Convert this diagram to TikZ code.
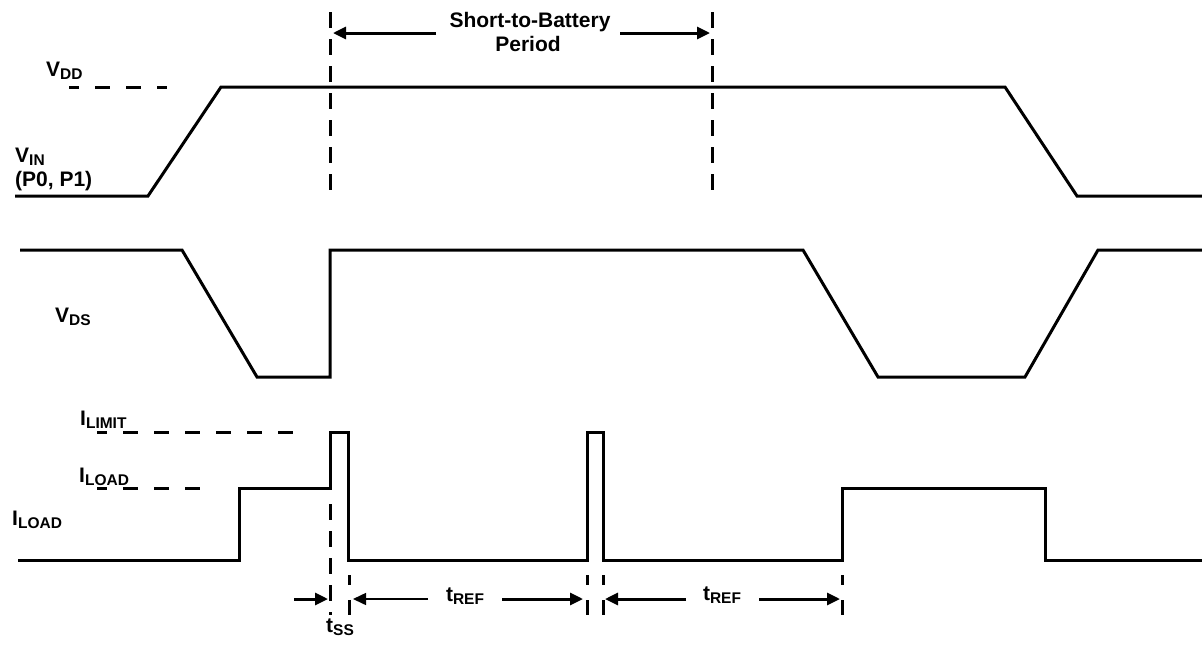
\documentclass[tikz,border=0pt]{standalone}
\usepackage{fontspec}
\setmainfont{Liberation Sans}
\usetikzlibrary{arrows.meta}
\newcommand{\subtx}[1]{\raisebox{-3pt}{\fontsize{15.5}{15.5}\selectfont #1}}
\tikzset{
  trace/.style={line width=3pt, line join=miter},
  hdash/.style={line width=3pt, dash pattern=on 15pt off 16pt, dash phase=5pt},
  vdash/.style={line width=3pt, dash pattern=on 16pt off 11pt},
  sdash/.style={line width=3pt, dash pattern=on 10pt off 15pt on 15pt off 10pt},
  arr/.style={line width=3pt, -{Triangle[length=13pt,width=12pt]}},
  tharr/.style={line width=1.5pt, -{Triangle[length=13pt,width=12pt]}},
  lbl/.style={inner sep=0pt, font=\fontsize{21}{24}\selectfont\bfseries}
}
\begin{document}
\begin{tikzpicture}[x=1pt,y=-1pt]
\useasboundingbox (0,0) rectangle (1202,646);

% labels
\node[lbl, anchor=base west] (vdd) at (46,76) {V\subtx{DD}};
\node[lbl, anchor=base west] (vin) at (15,162) {V\subtx{IN}};
\node[lbl, anchor=base west] (pins) at (15,186) {(P0, P1)};
\node[lbl, anchor=base west] (vds) at (55,322) {V\subtx{DS}};
\node[lbl, anchor=base west] (ilim) at (80,425) {I\subtx{LIMIT}};
\node[lbl, anchor=base west] (iload1) at (79,482) {I\subtx{LOAD}};
\node[lbl, anchor=base west] (iload2) at (12,525) {I\subtx{LOAD}};
\node[lbl, anchor=base] (stb1) at (530,27) {Short-to-Battery};
\node[lbl, anchor=base] (stb2) at (528,51) {Period};
\node[lbl, anchor=base] (tref1) at (465,601) {t\subtx{REF}};
\node[lbl, anchor=base] (tref2) at (722,600) {t\subtx{REF}};
\node[lbl, anchor=base] (tss) at (340,632) {t\subtx{SS}};

% level reference dashes
\draw[hdash] (69,87) -- (167,87);
\draw[hdash] (97,432) -- (295,432);
\draw[hdash] (97,488) -- (203,488);

% vertical dashed markers
\draw[vdash] (330,12) -- (330,198);
\draw[vdash] (712,12) -- (712,198);
\draw[vdash] (330,504) -- (330,615);
\draw[sdash] (349,575) -- (349,615);
\draw[sdash] (587,575) -- (587,615);
\draw[sdash] (603,575) -- (603,615);
\draw[sdash] (842,575) -- (842,615);

% traces
\draw[trace] (15,196) -- (148,196) -- (221,87) -- (1005,87) -- (1077,196) -- (1202,196);
\draw[trace] (20,250) -- (182,250) -- (257,377) -- (330,377) -- (330,250) -- (803,250)
  -- (878,377) -- (1025,377) -- (1098,250) -- (1202,250);
\draw[trace] (18,560) -- (239,560) -- (239,488) -- (330,488) -- (330,432) -- (348,432)
  -- (348,560) -- (587,560) -- (587,432) -- (603,432) -- (603,560) -- (842,560)
  -- (842,488) -- (1045,488) -- (1045,560) -- (1202,560);

% arrows
\coordinate (sbl) at (436,33); \coordinate (sbla) at (333,33);
\coordinate (sbr) at (620,33); \coordinate (sbra) at (710,33);
\draw[arr] (sbl) -- (sbla);
\draw[arr] (sbr) -- (sbra);

\coordinate (ssl) at (294,599); \coordinate (ssla) at (328,599);
\draw[arr] (ssl) -- (ssla);
\coordinate (r1l) at (428,599); \coordinate (r1la) at (353,599);
\draw[tharr] (r1l) -- (r1la);
\coordinate (r1r) at (502,599); \coordinate (r1ra) at (583,599);
\draw[arr] (r1r) -- (r1ra);
\coordinate (r2l) at (686,599); \coordinate (r2la) at (605,599);
\draw[arr] (r2l) -- (r2la);
\coordinate (r2r) at (759,599); \coordinate (r2ra) at (840,599);
\draw[arr] (r2r) -- (r2ra);
\end{tikzpicture}
\end{document}
